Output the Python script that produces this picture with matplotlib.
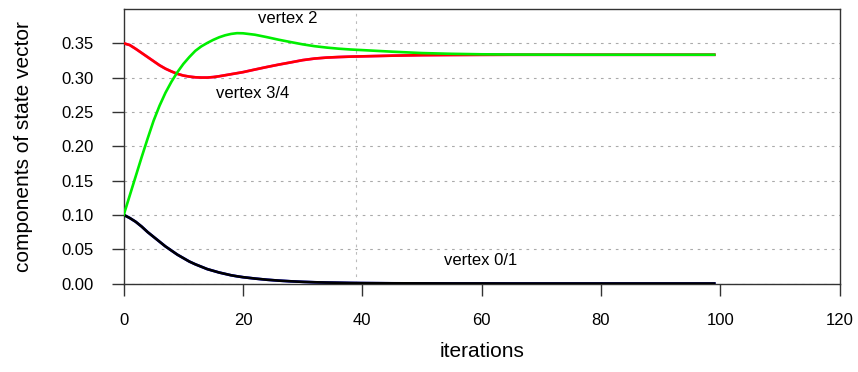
import numpy as np
import matplotlib.pyplot as plt

plt.rcParams['font.family'] = ['Liberation Sans', 'DejaVu Sans']

iters = list(range(0, 21)) + list(range(22, 41, 2)) + list(range(45, 96, 5)) + [99]

vertex01 = [0.100, 0.0955, 0.090, 0.083, 0.075, 0.068, 0.061, 0.054, 0.048, 0.042,
            0.037, 0.032, 0.028, 0.0245, 0.021, 0.0185, 0.016, 0.014, 0.012, 0.0105,
            0.0092,
            0.0072, 0.0055, 0.0042, 0.0032, 0.0024, 0.0018, 0.0014, 0.0011, 0.0008, 0.0006,
            0.0003, 0.0002, 0.0001, 0.0001, 0.0, 0.0, 0.0, 0.0, 0.0, 0.0, 0.0, 0.0]

vertex2 = [0.100, 0.128, 0.156, 0.184, 0.211, 0.237, 0.259, 0.278, 0.294, 0.308,
           0.320, 0.330, 0.339, 0.3455, 0.3505, 0.355, 0.3588, 0.3617, 0.3637, 0.3648,
           0.3646,
           0.3625, 0.359, 0.3552, 0.3518, 0.3485, 0.3458, 0.3438, 0.3422, 0.341, 0.3401,
           0.3378, 0.3358, 0.3347, 0.334, 0.3337, 0.3335, 0.3334, 0.3334, 0.3334, 0.3334,
           0.3334, 0.3334]

vertex34 = [0.350, 0.3475, 0.342, 0.336, 0.330, 0.324, 0.318, 0.313, 0.309, 0.3055,
            0.303, 0.3015, 0.3005, 0.3001, 0.3001, 0.3008, 0.302, 0.3035, 0.305, 0.3065,
            0.308,
            0.3118, 0.3155, 0.319, 0.3222, 0.3255, 0.3278, 0.3292, 0.330, 0.3306, 0.331,
            0.332, 0.3327, 0.333, 0.3332, 0.3333, 0.3333, 0.3333, 0.3333, 0.3333, 0.3333,
            0.3333, 0.3333]

xticks = [0, 20, 40, 60, 80, 100, 120]
yticks = [0.00, 0.05, 0.10, 0.15, 0.20, 0.25, 0.30, 0.35]

fig = plt.figure(figsize=(8.58, 3.72), dpi=100)
ax = fig.add_axes([0.1442, 0.2379, 0.8343, 0.7379])

# grid
for y in yticks:
    ax.axhline(y, color='#aaaaaa', lw=0.8, ls=(0, (2.4, 4.3)), zorder=1)
ax.axvline(39, color='#bbbbbb', lw=0.8, ls=(0, (2.4, 4.3)), zorder=1)

ax.plot(iters, vertex01, color='#0000ff', lw=1.9, zorder=2)
ax.plot(iters, vertex01, color='black', lw=1.9, zorder=3)
ax.plot(iters, vertex34, color='#ff00ff', lw=1.9, zorder=2)
ax.plot(iters, vertex34, color='#ff0000', lw=1.9, zorder=3)
ax.plot(iters, vertex2, color='#00ee00', lw=1.9, zorder=4)

ax.text(27.5, 0.386, 'vertex 2', fontsize=12, ha='center', va='center')
ax.text(21.6, 0.277, 'vertex 3/4', fontsize=12, ha='center', va='center')
ax.text(59.8, 0.033, 'vertex 0/1', fontsize=12, ha='center', va='center')

ax.set_xlim(0, 120)
ax.set_ylim(0, 0.40)
ax.set_xticks(xticks)
ax.set_xticklabels([str(x) for x in xticks])
ax.set_yticks(yticks)
ax.set_yticklabels(['%.2f' % y for y in yticks])
ax.tick_params(axis='both', direction='out', length=8.3, width=1, color='#333333',
               labelsize=12)
ax.tick_params(axis='x', pad=13)
ax.tick_params(axis='y', pad=13.5)
for s in ax.spines.values():
    s.set_color('#333333')
    s.set_linewidth(1)

ax.set_xlabel('iterations', fontsize=15)
ax.set_ylabel('components of state vector', fontsize=15)
ax.xaxis.set_label_coords(0.5, -0.213)
ax.yaxis.set_label_coords(-0.127, 0.5)

fig.savefig('out.png', dpi=100)
